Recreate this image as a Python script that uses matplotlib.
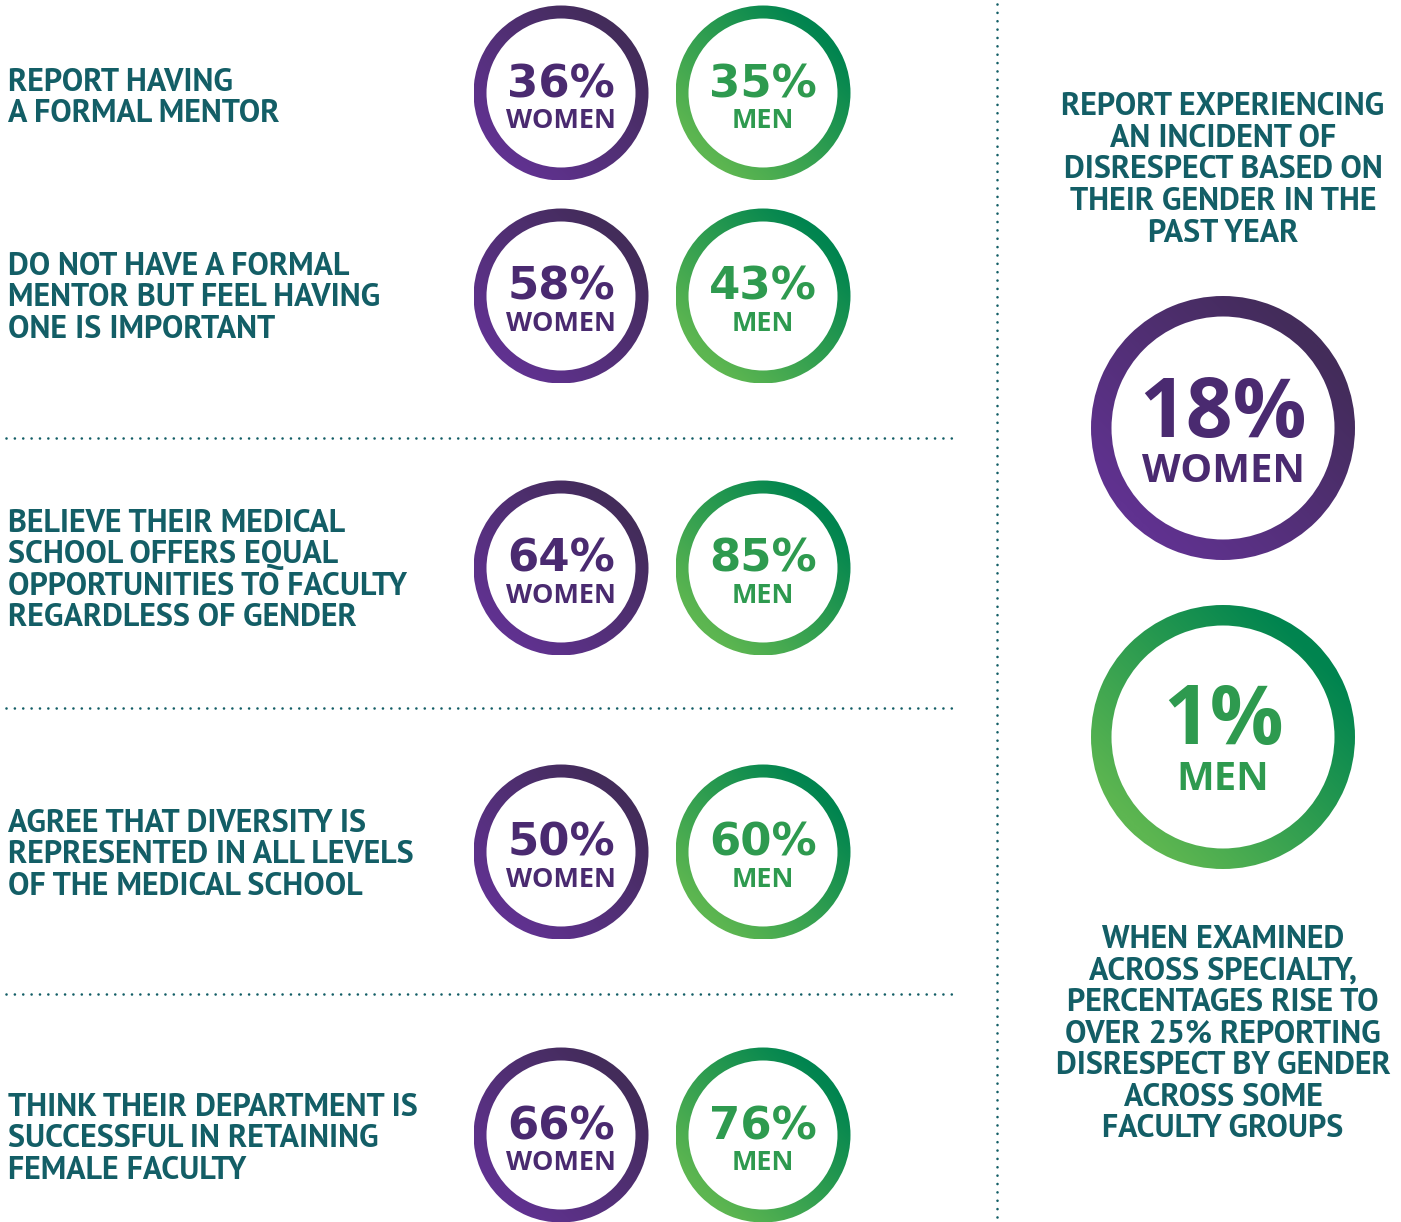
import numpy as np
import matplotlib
matplotlib.use("Agg")
import matplotlib.pyplot as plt
from matplotlib.patches import Annulus
from matplotlib.colors import LinearSegmentedColormap

# --- dados ---
questions = [
    ["REPORT HAVING", "A FORMAL MENTOR"],
    ["DO NOT HAVE A FORMAL", "MENTOR BUT FEEL HAVING", "ONE IS IMPORTANT"],
    ["BELIEVE THEIR MEDICAL", "SCHOOL OFFERS EQUAL", "OPPORTUNITIES TO FACULTY", "REGARDLESS OF GENDER"],
    ["AGREE THAT DIVERSITY IS", "REPRESENTED IN ALL LEVELS", "OF THE MEDICAL SCHOOL"],
    ["THINK THEIR DEPARTMENT IS", "SUCCESSFUL IN RETAINING", "FEMALE FACULTY"],
]
women_pct = [36, 58, 64, 50, 66]
men_pct = [35, 43, 85, 60, 76]

side_title = ["REPORT EXPERIENCING", "AN INCIDENT OF", "DISRESPECT BASED ON",
              "THEIR GENDER IN THE", "PAST YEAR"]
side_women = 18
side_men = 1
side_note = ["WHEN EXAMINED", "ACROSS SPECIALTY,", "PERCENTAGES RISE TO",
             "OVER 25% REPORTING", "DISRESPECT BY GENDER", "ACROSS SOME", "FACULTY GROUPS"]

# --- estilo ---
TEAL = "#135e66"
W_TXT = "#4a2a70"
M_TXT = "#2e9a4f"
cmap_w = LinearSegmentedColormap.from_list("w", ["#603290", "#432c5a"])
cmap_m = LinearSegmentedColormap.from_list("m", ["#5db651", "#00844f"])
LABEL = ["PT Sans", "Liberation Sans", "DejaVu Sans"]
NUM_S = ["DejaVu Sans"]
NUM_L = ["Open Sans", "DejaVu Sans"]
WORD = ["Open Sans", "DejaVu Sans"]


def pt(px):
    return px * 72 / 100


W, H = 1401, 1222
fig = plt.figure(figsize=(W / 100, H / 100), dpi=100)
ax = fig.add_axes([0, 0, 1, 1])
ax.axis("off")


def ring(cx, cy, r, width, cmap):
    n = 300
    xs = np.linspace(cx - r, cx + r, n)
    ys = np.linspace(cy - r, cy + r, n)
    X, Y = np.meshgrid(xs, ys)
    t = ((X - cx) - (Y - cy)) / (2 * r) * 0.75 + 0.5
    im = ax.imshow(t, cmap=cmap, vmin=0, vmax=1, origin="upper",
                   extent=(cx - r, cx + r, cy + r, cy - r), interpolation="bilinear")
    ann = Annulus((cx, cy), r, width, facecolor="none", edgecolor="none")
    ax.add_patch(ann)
    im.set_clip_path(ann)


def badge(cx, cy, value, word, cmap, color, r, width, big, small, dy1, dy2, fam):
    ring(cx, cy, r, width, cmap)
    ax.text(cx, cy + dy1, f"{value}%", ha="center", va="baseline", color=color,
            fontsize=pt(big), fontweight="bold", family=fam)
    ax.text(cx, cy + dy2, word, ha="center", va="baseline", color=color,
            fontsize=pt(small), fontweight="bold", family=WORD)


row_y = [93, 296, 568, 852, 1135]
first_base = [91, 275, 532, 832, 1116]
line_gap = 31.4
xw, xm = 561, 763

for i, lines in enumerate(questions):
    for j, s in enumerate(lines):
        ax.text(8, first_base[i] + j * line_gap, s, ha="left", va="baseline",
                color=TEAL, fontsize=pt(32), fontweight="bold", family=LABEL)
    badge(xw, row_y[i], women_pct[i], "WOMEN", cmap_w, W_TXT, 87.5, 13, 45, 27, 4, 35, NUM_S)
    badge(xm, row_y[i], men_pct[i], "MEN", cmap_m, M_TXT, 87.5, 13, 45, 27, 4, 35, NUM_S)

# painel lateral
xc = 1223
for j, s in enumerate(side_title):
    ax.text(xc, 115 + j * 31.75, s, ha="center", va="baseline", color=TEAL,
            fontsize=pt(32), fontweight="bold", family=LABEL)
badge(xc, 428, side_women, "WOMEN", cmap_w, W_TXT, 132, 20.5, 82, 40, 9, 54, NUM_L)
badge(xc, 737, side_men, "MEN", cmap_m, M_TXT, 132, 20.5, 82, 40, 7, 53, NUM_L)
for j, s in enumerate(side_note):
    ax.text(xc, 948 + j * 31.5, s, ha="center", va="baseline", color=TEAL,
            fontsize=pt(32), fontweight="bold", family=LABEL)

# linhas pontilhadas
dot = dict(color=TEAL, lw=1.9, linestyle=(0, (0.01, 3.16)), dash_capstyle="round")
for y in [438, 708, 994]:
    ax.plot([6, 956], [y, y], **dot)
ax.plot([997, 997], [4, 1220], **dot)

ax.set_xlim(0, W)
ax.set_ylim(H, 0)
ax.set_aspect("auto")
fig.savefig("out.png", dpi=100)
